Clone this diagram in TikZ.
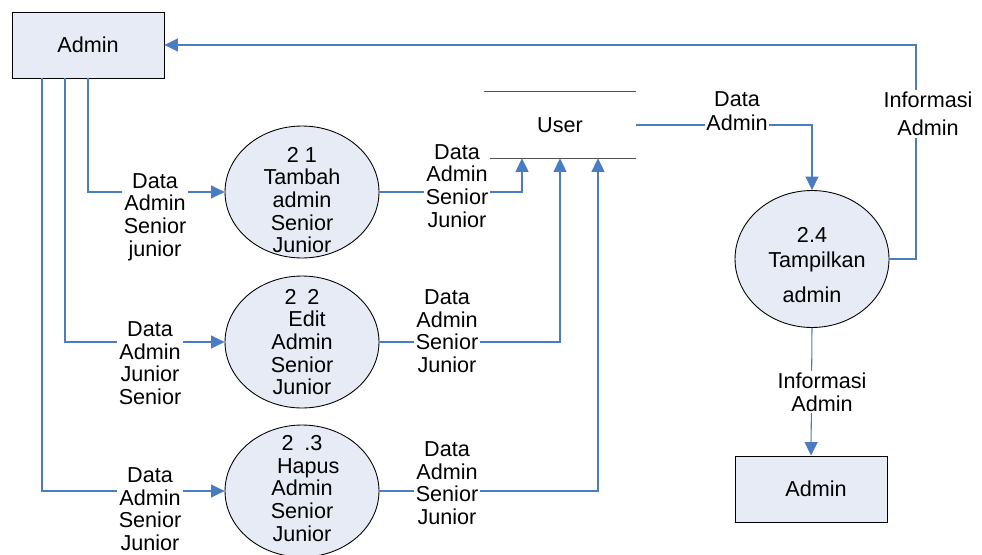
\documentclass[tikz,border=0pt]{standalone}
\usepackage{fontspec}
\setmainfont{Liberation Sans}
\usetikzlibrary{arrows.meta,positioning,shapes.geometric}
\definecolor{flowblue}{RGB}{74,124,196}
\definecolor{procfill}{RGB}{231,235,245}
\definecolor{storegray}{RGB}{80,80,80}
\tikzset{
  entity/.style={rectangle,draw=black,fill=procfill,line width=0.5pt,minimum width=3.04cm,minimum height=1.32cm,inner sep=0pt},
  process/.style={ellipse,draw=black,fill=procfill,line width=0.5pt,minimum width=3.08cm,minimum height=2.64cm,inner sep=0pt},
  proctext/.style={inner sep=0pt,align=center},
  datastore/.style={rectangle,minimum width=3.04cm,minimum height=1.32cm,inner sep=0pt},
  storeline/.style={draw=storegray,line width=0.7pt},
  flow/.style={draw=flowblue,line width=0.6pt},
  flowarr/.style={flow,-{Triangle[length=0.27cm,width=0.26cm]}},
  flowlabel/.style={fill=white,inner sep=1pt,align=center}
}

\begin{document}
\begin{tikzpicture}[x=0.02cm,y=-0.02cm,
  font=\fontsize{12.3}{12.9}\selectfont]

  \useasboundingbox (0,0) rectangle (982,554);

  % external entities
  \node[entity] (adminL) at (88,45) {Admin};
  \node[entity] (adminR) at (811,489) {\hspace*{0.2cm}Admin};

  % processes
  \node[process] (pTambah) at (302,192) {};
  \node[process] (pEdit) at (302,342) {};
  \node[process] (pHapus) at (302,491) {};
  \node[process,minimum height=2.74cm] (pShow) at (812,259) {};

  \node[proctext] (tTambah) at ([yshift=-0.16cm]pTambah.center)
    {2 1\\Tambah\\admin\\Senior\\Junior};
  \node[proctext] (tEdit) at (pEdit.center)
    {2\enspace 2\\\hspace*{0.2cm}Edit\\Admin\\Senior\\Junior};
  \node[proctext] (tHapus) at ([yshift=0.05cm]pHapus.center)
    {2\enspace .3\\\hspace*{0.25cm}Hapus\\Admin\\Senior\\Junior};
  \node[proctext] (tShow) at ([yshift=-0.12cm]pShow.center)
    {2.4\\[1pt]\hspace*{0.2cm}Tampilkan\\[7pt]admin};

  % data store
  \node[datastore] (userStore) at (560,125) {User};
  \draw[storeline] (userStore.north west) -- (userStore.north east);
  \draw[storeline] (userStore.south west) -- (userStore.south east);

  \coordinate (infoTurn) at (916,45);

  % flows
  \draw[flowarr] (adminL.south) |- (pTambah.west);
  \draw[flowarr] ([xshift=-0.46cm]adminL.south) |- (pEdit.west);
  \draw[flowarr] ([xshift=-0.92cm]adminL.south) |- (pHapus.west);

  \draw[flowarr] (pTambah.east) -| ([xshift=-0.76cm]userStore.south);
  \draw[flowarr] (pEdit.east) -| (userStore.south);
  \draw[flowarr] (pHapus.east) -| ([xshift=0.76cm]userStore.south);

  \draw[flowarr] (userStore.east) -| (pShow.north);
  \draw[flowarr] (pShow.east) -| (infoTurn) -- (adminL.east);
  \draw[flowarr] (pShow.south) -- (adminR.north);

  % flow labels
  \node[flowlabel] (lblIn1) at (155,217) {Data\\Admin\\Senior\\junior};
  \node[flowlabel] (lblIn2) at (150,363) {Data\\Admin\\Junior\\Senior};
  \node[flowlabel] (lblIn3) at (150,509) {Data\\Admin\\Senior\\Junior};

  \node[flowlabel] (lblOut1) at (457,186) {Data\\Admin\\Senior\\Junior};
  \node[flowlabel] (lblOut2) at (447,331) {Data\\Admin\\Senior\\Junior};
  \node[flowlabel] (lblOut3) at (447,483) {Data\\Admin\\Senior\\Junior};

  \node[flowlabel] (lblData) at (737,111) {Data\\[1pt]Admin};
  \node[flowlabel] (lblInfoTop) at (928,114) {Informasi\\[3pt]Admin};
  \node[flowlabel] (lblInfoBot) at (822,392) {Informasi\\Admin};

\end{tikzpicture}
\end{document}
